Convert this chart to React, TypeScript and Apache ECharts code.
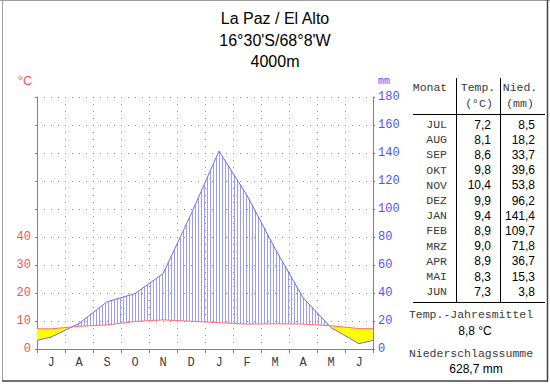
import React, { useEffect, useRef } from 'react';
import * as echarts from 'echarts';

const months = ['J', 'A', 'S', 'O', 'N', 'D', 'J', 'F', 'M', 'A', 'M', 'J'];
const tableMonths = ['JUL', 'AUG', 'SEP', 'OKT', 'NOV', 'DEZ', 'JAN', 'FEB', 'MRZ', 'APR', 'MAI', 'JUN'];
const temps = [7.2, 8.1, 8.6, 9.8, 10.4, 9.9, 9.4, 8.9, 9.0, 8.9, 8.3, 7.3];
const precip = [8.5, 18.2, 33.7, 39.6, 53.8, 96.2, 141.4, 109.7, 71.8, 36.7, 15.3, 3.8];
const tempTickLabels = [0, 10, 20, 30, 40];
const titleLines = ['La Paz / El Alto', "16°30'S/68°8'W", '4000m'];

const SANS = '"Liberation Sans", Arial, sans-serif';
const MONO = '"Liberation Mono", "Courier New", monospace';

const fmt = (v: number) => v.toFixed(1).replace('.', ',');

// the diagram wraps around the year: edge values lie between June and July
function withEdges(arr: number[]): number[][] {
  const e = (arr[0] + arr[arr.length - 1]) / 2;
  return [[0, e], ...arr.map((v, i) => [i + 0.5, v]), [arr.length, e]];
}

const tempLine = withEdges(temps);
const precipLine = withEdges(precip);

export default function App() {
  const ref = useRef<HTMLDivElement>(null);
  useEffect(() => {
    document.body.style.margin = '0';
    const chart = echarts.init(ref.current!, undefined, { renderer: 'svg' });

    const renderFill = (params: any, api: any) => {
      const tP = tempLine.map((d) => api.coord([d[0], d[1]]));
      const pP = precipLine.map((d) => api.coord([d[0], d[1] / 2]));
      const children: any[] = [];
      const yellow = { fill: '#ffff00', stroke: 'none' };
      for (let i = 0; i < tP.length - 1; i++) {
        const d0 = pP[i][1] - tP[i][1];
        const d1 = pP[i + 1][1] - tP[i + 1][1];
        if (d0 >= 0 && d1 >= 0) {
          if (d0 > 0 || d1 > 0)
            children.push({ type: 'polygon', shape: { points: [tP[i], tP[i + 1], pP[i + 1], pP[i]] }, style: yellow });
        } else if (d0 > 0 && d1 < 0) {
          const f = d0 / (d0 - d1);
          const c = [tP[i][0] + f * (tP[i + 1][0] - tP[i][0]), tP[i][1] + f * (tP[i + 1][1] - tP[i][1])];
          children.push({ type: 'polygon', shape: { points: [tP[i], c, pP[i]] }, style: yellow });
        } else if (d0 < 0 && d1 > 0) {
          const f = d0 / (d0 - d1);
          const c = [tP[i][0] + f * (tP[i + 1][0] - tP[i][0]), tP[i][1] + f * (tP[i + 1][1] - tP[i][1])];
          children.push({ type: 'polygon', shape: { points: [c, tP[i + 1], pP[i + 1]] }, style: yellow });
        }
      }
      const xStart = tP[0][0];
      const xEnd = tP[tP.length - 1][0];
      let j = 0;
      for (let x = Math.floor(xStart) + 2; x < xEnd; x += 3) {
        while (j < tP.length - 2 && x > tP[j + 1][0]) j++;
        const f = (x - tP[j][0]) / (tP[j + 1][0] - tP[j][0]);
        const ty = tP[j][1] + f * (tP[j + 1][1] - tP[j][1]);
        const py = pP[j][1] + f * (pP[j + 1][1] - pP[j][1]);
        if (py < ty - 1) {
          children.push({
            type: 'line',
            shape: { x1: x + 0.5, y1: ty, x2: x + 0.5, y2: py },
            style: { stroke: '#9a9aff', lineWidth: 1 },
          });
        }
      }
      return { type: 'group', children };
    };

    const graphic: any[] = [];
    // frame
    graphic.push(
      { type: 'line', shape: { x1: 0, y1: 0.5, x2: 550, y2: 0.5 }, style: { stroke: '#a0a0a0', lineWidth: 1 } },
      { type: 'line', shape: { x1: 2.5, y1: 0, x2: 2.5, y2: 381 }, style: { stroke: '#a0a0a0', lineWidth: 1 } },
      { type: 'line', shape: { x1: 2, y1: 381, x2: 548, y2: 381 }, style: { stroke: '#404040', lineWidth: 1.5 } },
      { type: 'line', shape: { x1: 547.5, y1: 0, x2: 547.5, y2: 381.5 }, style: { stroke: '#404040', lineWidth: 1.5 } }
    );
    // title
    const titleY = [18, 40, 61];
    titleLines.forEach((t, i) =>
      graphic.push({
        type: 'text',
        style: { text: t, x: 275, y: titleY[i], align: 'center', verticalAlign: 'middle', font: `16px ${SANS}`, fill: '#000' },
      })
    );
    // axis names
    graphic.push(
      { type: 'text', style: { text: '°C', x: 25, y: 80, align: 'center', verticalAlign: 'middle', font: `13px ${SANS}`, fill: '#ff5050' } },
      { type: 'text', style: { text: 'mm', x: 384, y: 81, align: 'center', verticalAlign: 'middle', font: `10px ${MONO}`, fill: '#5050ff' } }
    );
    // table
    const hdrColor = '#3a3a3a';
    const MF = `11.5px ${MONO}`;
    graphic.push(
      { type: 'text', style: { text: 'Monat', x: 430, y: 87, align: 'center', verticalAlign: 'middle', font: MF, fill: hdrColor } },
      { type: 'text', style: { text: 'Temp.', x: 478, y: 87, align: 'center', verticalAlign: 'middle', font: MF, fill: hdrColor } },
      { type: 'text', style: { text: '(°C)', x: 479, y: 103, align: 'center', verticalAlign: 'middle', font: MF, fill: hdrColor } },
      { type: 'text', style: { text: 'Nied.', x: 520, y: 87, align: 'center', verticalAlign: 'middle', font: MF, fill: hdrColor } },
      { type: 'text', style: { text: '(mm)', x: 520, y: 103, align: 'center', verticalAlign: 'middle', font: MF, fill: hdrColor } },
      { type: 'line', shape: { x1: 413, y1: 114.5, x2: 545, y2: 114.5 }, style: { stroke: '#000', lineWidth: 1 } },
      { type: 'line', shape: { x1: 413, y1: 302.5, x2: 545, y2: 302.5 }, style: { stroke: '#000', lineWidth: 1 } },
      { type: 'line', shape: { x1: 456.5, y1: 78, x2: 456.5, y2: 302 }, style: { stroke: '#000', lineWidth: 1 } },
      { type: 'line', shape: { x1: 500.5, y1: 78, x2: 500.5, y2: 302 }, style: { stroke: '#000', lineWidth: 1 } }
    );
    tableMonths.forEach((m, i) => {
      const y = 124.5 + i * 15.2;
      graphic.push(
        { type: 'text', style: { text: m, x: 447, y, align: 'right', verticalAlign: 'middle', font: MF, fill: hdrColor } },
        { type: 'text', style: { text: fmt(temps[i]), x: 491, y, align: 'right', verticalAlign: 'middle', font: `12px ${SANS}`, fill: '#000' } },
        { type: 'text', style: { text: fmt(precip[i]), x: 535, y, align: 'right', verticalAlign: 'middle', font: `12px ${SANS}`, fill: '#000' } }
      );
    });
    const meanT = temps.reduce((a, b) => a + b, 0) / temps.length;
    const sumP = precip.reduce((a, b) => a + b, 0);
    graphic.push(
      { type: 'text', style: { text: 'Temp.-Jahresmittel', x: 471, y: 314, align: 'center', verticalAlign: 'middle', font: MF, fill: hdrColor } },
      { type: 'text', style: { text: `${fmt(meanT)} °C`, x: 475, y: 331, align: 'center', verticalAlign: 'middle', font: `12px ${SANS}`, fill: '#000' } },
      { type: 'text', style: { text: 'Niederschlagssumme', x: 471, y: 353, align: 'center', verticalAlign: 'middle', font: MF, fill: hdrColor } },
      { type: 'text', style: { text: `${fmt(sumP)} mm`, x: 476, y: 369, align: 'center', verticalAlign: 'middle', font: `12px ${SANS}`, fill: '#000' } }
    );

    const gridLine = { show: true, lineStyle: { color: '#8a8a8a', type: [1, 6] as any, width: 1 } };
    chart.setOption({
      animation: false,
      backgroundColor: '#fff',
      grid: { left: 37, top: 97, width: 336, height: 252, containLabel: false },
      xAxis: [
        {
          type: 'category',
          data: months,
          boundaryGap: true,
          axisLine: { show: true, lineStyle: { color: '#808080' } },
          axisTick: { show: true, length: 4, interval: 0, lineStyle: { color: '#808080' } },
          axisLabel: { interval: 0, margin: 8, color: '#404040', fontFamily: MONO, fontSize: 12 },
          splitLine: { ...gridLine, interval: 0 },
        },
        { type: 'value', min: 0, max: 12, show: false },
      ],
      yAxis: [
        {
          type: 'value',
          min: 0,
          max: 90,
          interval: 10,
          position: 'left',
          axisLine: { show: true, lineStyle: { color: '#808080' } },
          axisTick: { show: true, length: 2, lineStyle: { color: '#808080' } },
          axisLabel: {
            margin: 6,
            color: '#ff5050',
            fontFamily: MONO,
            fontSize: 12,
            formatter: (v: number) => (tempTickLabels.includes(v) ? String(v) : ''),
          },
          splitLine: gridLine,
        },
        {
          type: 'value',
          min: 0,
          max: 180,
          interval: 20,
          position: 'right',
          axisLine: { show: true, lineStyle: { color: '#808080' } },
          axisTick: { show: true, length: 2, lineStyle: { color: '#808080' } },
          axisLabel: { margin: 5, color: '#5050ff', fontFamily: MONO, fontSize: 12 },
          splitLine: { show: false },
        },
      ],
      graphic,
      series: [
        {
          type: 'custom',
          xAxisIndex: 1,
          yAxisIndex: 0,
          data: [[0, 0]],
          renderItem: renderFill,
          silent: true,
          clip: false,
          z: 1,
        },
        {
          type: 'line',
          xAxisIndex: 1,
          yAxisIndex: 0,
          data: tempLine,
          symbol: 'none',
          lineStyle: { color: '#ff7070', width: 1 },
          z: 4,
        },
        {
          type: 'line',
          xAxisIndex: 1,
          yAxisIndex: 1,
          data: precipLine,
          symbol: 'none',
          lineStyle: { color: '#6a6aff', width: 1 },
          z: 3,
        },
      ],
    });
    return () => chart.dispose();
  }, []);
  return <div ref={ref} style={{ position: 'absolute', left: 0, top: 0, width: 550, height: 384, background: '#fff' }} />;
}
